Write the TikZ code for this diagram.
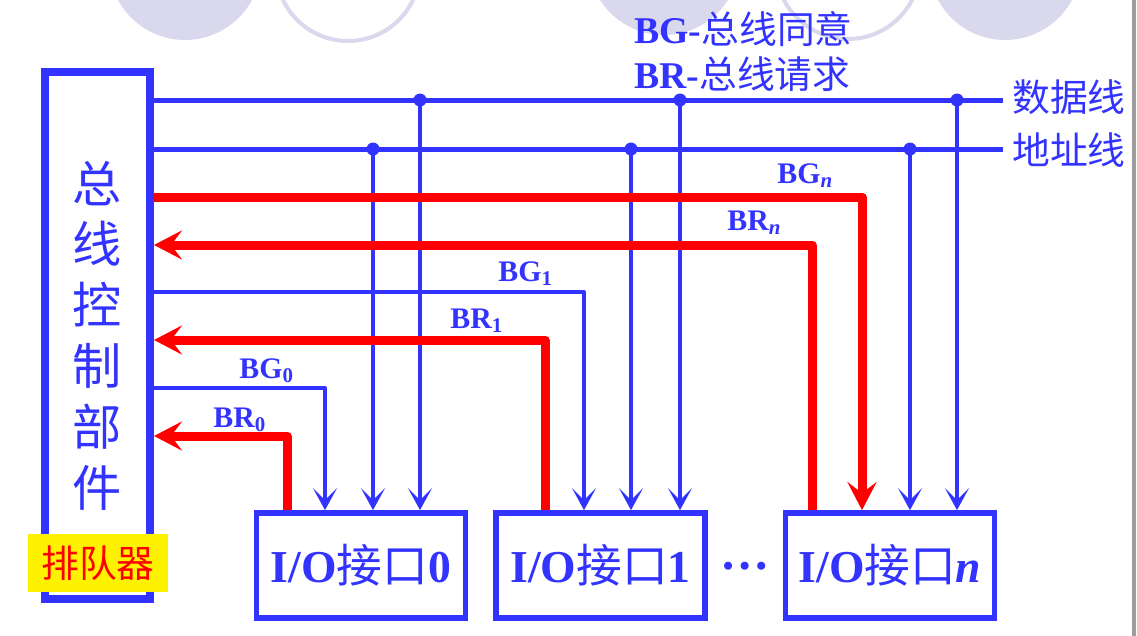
\documentclass[tikz,border=0pt]{standalone}
\usepackage{fontspec}
\setmainfont{Liberation Serif}
\newfontfamily\cjk{Noto Sans CJK SC}
\usetikzlibrary{arrows.meta}
\definecolor{busblue}{RGB}{51,51,255}
\definecolor{reqred}{RGB}{255,0,0}
\definecolor{deco}{RGB}{218,216,236}

\begin{document}
\begin{tikzpicture}[
    x=0.02cm, y=-0.02cm,
    bus/.style={draw=busblue, line width=0.1cm},
    drop/.style={draw=busblue, line width=0.08cm, -{Stealth[length=0.44cm,width=0.48cm,inset=0.24cm]}},
    grant/.style={draw=busblue, line width=0.08cm, line join=round, -{Stealth[length=0.44cm,width=0.48cm,inset=0.24cm]}},
    req/.style={draw=reqred, line width=0.18cm, line join=round, -{Stealth[length=0.56cm,width=0.58cm,inset=0.22cm]}},
    iobox/.style={rectangle, draw=busblue, line width=0.115cm, minimum width=4.18cm, minimum height=2.1cm, text=busblue, font=\fontsize{26}{30}\selectfont},
    sig/.style={text=busblue, font=\fontsize{17}{20}\selectfont\bfseries, inner sep=0pt, anchor=base west},
    legend/.style={text=busblue, font=\fontsize{21.5}{25}\selectfont, inner sep=0pt, anchor=base west},
    buslbl/.style={text=busblue, font=\cjk\fontsize{21.5}{25}\selectfont, inner xsep=0.18cm, inner ysep=0pt, anchor=west}
  ]

  \useasboundingbox (0,0) rectangle (1137,636);
  \fill[white] (0,0) rectangle (1137,636);

  % slide decoration
  \fill[deco] (185,-36) circle (1.52cm);
  \draw[deco, line width=0.08cm] (348,-31) circle (1.44cm);
  \fill[deco] (664,-41) circle (1.52cm);
  \draw[deco, line width=0.08cm] (848,-33) circle (1.44cm);
  \fill[deco] (1005,-36) circle (1.52cm);
  \fill[black!38] (1132,0) rectangle (1136,636);

  % bus controller and interfaces
  \node[rectangle, draw=busblue, line width=0.16cm, minimum width=2.1cm, minimum height=10.54cm,
        text=busblue, align=center, font=\cjk\fontsize{28}{34.6}\selectfont] (ctrl) at (97.5,335.5)
        {总\\线\\控\\制\\部\\件};
  \node[fill=yellow, text=reqred, minimum width=2.8cm, minimum height=1.16cm, inner sep=0pt,
        font=\cjk\fontsize{21.5}{24}\selectfont] (queue) at (98,563) {排队器};

  \node[iobox] (io0) at (361,565.5) {\textbf{I/O}{\cjk 接口}\textbf{0}};
  \node[iobox] (io1) at (600.5,565.5) {\textbf{I/O}{\cjk 接口}\textbf{1}};
  \node[iobox] (ion) at (890,565.5) {\textbf{I/O}{\cjk 接口}\textbf{\itshape n}};
  \node[text=busblue, inner sep=0pt, anchor=base, font=\fontsize{28}{30}\selectfont\bfseries] (gap) at (745,569) {…};

  % legend
  \node[legend] (lgg) at (634,43) {\textbf{BG-}{\cjk 总线同意}};
  \node[legend] (lgr) at (634,88) {\textbf{BR-}{\cjk 总线请求}};

  % data and address bus
  \node[buslbl] (datalbl) at (1003,97) {数据线};
  \node[buslbl] (addrlbl) at (1003,150) {地址线};
  \draw[bus] (ctrl.east |- 0,100) -- (datalbl.west |- 0,100);
  \draw[bus] (ctrl.east |- 0,149) -- (addrlbl.west |- 0,149);

  \coordinate (a0) at (373,149);
  \coordinate (d0) at (420,100);
  \coordinate (a1) at (631,149);
  \coordinate (d1) at (680,100);
  \coordinate (an) at (910,149);
  \coordinate (dn) at (957,100);
  \foreach \p/\q in {a0/io0, d0/io0, a1/io1, d1/io1, an/ion, dn/ion} {
    \fill[busblue] (\p) circle (0.13cm);
    \draw[drop] (\p) -- (\p |- \q.north);
  }

  % grant lines
  \coordinate (bg0) at (325,388);
  \coordinate (bg1) at (584,292);
  \draw[grant] (ctrl.east |- bg0) -- (bg0) -- (bg0 |- io0.north);
  \draw[grant] (ctrl.east |- bg1) -- (bg1) -- (bg1 |- io1.north);

  % request lines and grant n
  \coordinate (br0) at (287,436);
  \coordinate (br1) at (545,340);
  \coordinate (brn) at (812,245);
  \coordinate (bgn) at (862,197);
  \draw[req] (ctrl.east |- bgn) -- (bgn) -- (bgn |- ion.north);
  \draw[req] (br0 |- io0.north) -- (br0) -- (ctrl.east |- br0);
  \draw[req] (br1 |- io1.north) -- (br1) -- (ctrl.east |- br1);
  \draw[req] (brn |- ion.north) -- (brn) -- (ctrl.east |- brn);

  % signal labels
  \node[sig] (lbg0) at (239,378) {BG\textsubscript{0}};
  \node[sig] (lbr0) at (213,427) {BR\textsubscript{0}};
  \node[sig] (lbg1) at (498,281) {BG\textsubscript{1}};
  \node[sig] (lbr1) at (450,328) {BR\textsubscript{1}};
  \node[sig] (lbgn) at (777,183) {BG\textsubscript{\itshape n}};
  \node[sig] (lbrn) at (727,230) {BR\textsubscript{\itshape n}};

\end{tikzpicture}
\end{document}
